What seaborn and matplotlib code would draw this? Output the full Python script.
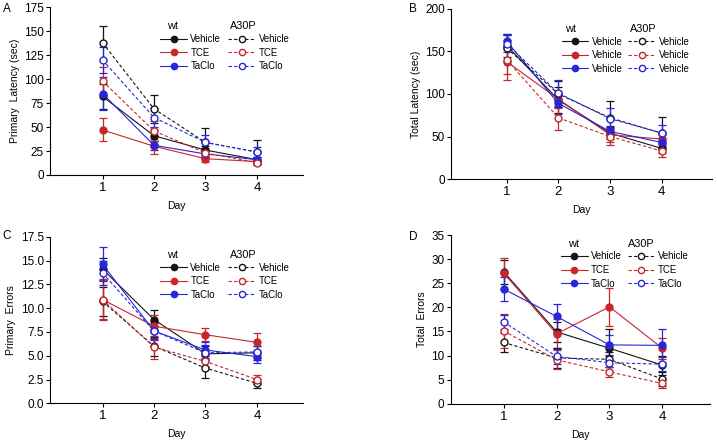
import matplotlib
matplotlib.use("Agg")
import matplotlib.pyplot as plt
from matplotlib.lines import Line2D
import seaborn as sns
import pandas as pd

sns.set_style("ticks")
plt.rcParams['font.family'] = ['Liberation Sans', 'DejaVu Sans']
for k in ["text.color", "axes.labelcolor", "xtick.color", "ytick.color", "axes.edgecolor"]:
    plt.rcParams[k] = "black"

days = [1, 2, 3, 4]
series = ["wt_Vehicle", "wt_TCE", "wt_TaClo", "A30P_Vehicle", "A30P_TCE", "A30P_TaClo"]

# Panel A: Primary latency (sec)
A_mean = {"wt_Vehicle": [82, 41, 26, 16], "wt_TCE": [47, 30, 17, 14], "wt_TaClo": [85, 31, 22, 16],
          "A30P_Vehicle": [138, 69, 34, 24], "A30P_TCE": [98, 46, 23, 13], "A30P_TaClo": [120, 60, 34, 24]}
A_sem = {"wt_Vehicle": [13, 6, 4, 3], "wt_TCE": [12, 8, 3, 2], "wt_TaClo": [17, 5, 4, 3],
         "A30P_Vehicle": [18, 15, 15, 13], "A30P_TCE": [15, 10, 5, 3], "A30P_TaClo": [14, 10, 8, 5]}

# Panel B: Total latency (sec)
B_mean = {"wt_Vehicle": [157, 93, 54, 36], "wt_TCE": [138, 94, 52, 47], "wt_TaClo": [162, 89, 56, 43],
          "A30P_Vehicle": [154, 100, 72, 54], "A30P_TCE": [140, 72, 50, 33], "A30P_TaClo": [159, 101, 71, 54]}
B_sem = {"wt_Vehicle": [14, 15, 7, 5], "wt_TCE": [15, 10, 8, 5], "wt_TaClo": [8, 12, 6, 5],
         "A30P_Vehicle": [15, 15, 20, 19], "A30P_TCE": [24, 14, 10, 7], "A30P_TaClo": [10, 16, 12, 10]}

# Panel C: Primary errors
C_mean = {"wt_Vehicle": [14.1, 8.8, 5.2, 5.3], "wt_TCE": [10.9, 8.1, 7.2, 6.4], "wt_TaClo": [14.6, 7.6, 5.6, 4.9],
          "A30P_Vehicle": [10.7, 6.0, 3.7, 2.1], "A30P_TCE": [10.9, 5.9, 4.4, 2.5], "A30P_TaClo": [13.7, 7.6, 5.3, 5.4]}
C_sem = {"wt_Vehicle": [1.2, 1.0, 0.8, 0.7], "wt_TCE": [2.2, 1.2, 0.7, 1.0], "wt_TaClo": [1.8, 1.0, 0.8, 0.7],
         "A30P_Vehicle": [1.5, 1.0, 1.0, 0.5], "A30P_TCE": [2.0, 1.2, 0.6, 0.5], "A30P_TaClo": [1.3, 0.8, 0.8, 0.6]}

# Panel D: Total errors
D_mean = {"wt_Vehicle": [27.4, 14.9, 11.5, 8.0], "wt_TCE": [27.1, 14.5, 20.1, 11.5], "wt_TaClo": [23.8, 18.1, 12.2, 12.1],
          "A30P_Vehicle": [12.7, 9.5, 9.2, 5.1], "A30P_TCE": [15.1, 9.1, 6.6, 4.2], "A30P_TaClo": [17.0, 9.8, 8.5, 8.2]}
D_sem = {"wt_Vehicle": [2.5, 2.0, 3.9, 2.0], "wt_TCE": [3.2, 3.0, 3.9, 2.2], "wt_TaClo": [2.4, 2.5, 2.0, 3.5],
         "A30P_Vehicle": [2.0, 2.0, 1.5, 1.5], "A30P_TCE": [3.5, 2.0, 1.0, 1.0], "A30P_TaClo": [1.5, 1.5, 1.5, 1.5]}

panel_letters = ["A", "B", "C", "D"]
ylabels = ["Primary  Latency (sec)", "Total Latency (sec)", "Primary  Errors", "Total  Errors"]
yticks_A = [0, 25, 50, 75, 100, 125, 150, 175]
yticks_B = [0, 50, 100, 150, 200]
yticks_C = [0.0, 2.5, 5.0, 7.5, 10.0, 12.5, 15.0, 17.5]
yticks_D = [0, 5, 10, 15, 20, 25, 30, 35]
legend_labels_A = ["Vehicle", "TCE", "TaClo"]
legend_labels_B = ["Vehicle", "Vehicle", "Vehicle"]
genotype_titles = ["wt", "A30P"]

colors = {"Vehicle": "#151515", "TCE": "#c9262a", "TaClo": "#2626dd"}

fig = plt.figure(figsize=(7.17, 4.42), dpi=100)
W, H = 717, 442

def px_axes(l, r, top, bottom):
    return fig.add_axes([l / W, 1 - bottom / H, (r - l) / W, (bottom - top) / H])

axA = px_axes(50, 303.3, 7.3, 175)
axB = px_axes(451, 711.7, 9, 179)
axC = px_axes(50, 303.3, 236.7, 403.3)
axD = px_axes(450.7, 710, 235, 403.7)

# legend layout: (handle-x wt, handle-x A30P, legend top, header-x wt, header-x A30P, header-y)
panels = [
    (axA, A_mean, A_sem, yticks_A, legend_labels_A, (-0.02, 4.9), (0.435, 0.704, 0.84, 0.462, 0.711, 0.89), "{:g}"),
    (axB, B_mean, B_sem, yticks_B, legend_labels_B, (-0.08, 4.97), (0.424, 0.68, 0.838, 0.437, 0.685, 0.882), "{:g}"),
    (axC, C_mean, C_sem, yticks_C, legend_labels_A, (-0.02, 4.9), (0.435, 0.704, 0.845, 0.462, 0.711, 0.89), "{:.1f}"),
    (axD, D_mean, D_sem, yticks_D, legend_labels_A, (0.0, 4.9), (0.425, 0.683, 0.903, 0.452, 0.684, 0.947), "{:g}"),
]

for i, (ax, means, sems, yt, leg_labels, xl, lp, fmt) in enumerate(panels):
    for key in series:
        geno, treat = key.split("_")
        c = colors[treat]
        is_mut = geno == "A30P"
        ax.errorbar(days, means[key], yerr=sems[key], fmt="none", ecolor=c,
                    elinewidth=0.9, capsize=3, capthick=0.9, zorder=2)
        df = pd.DataFrame({"Day": days, "val": means[key]})
        sns.lineplot(data=df, x="Day", y="val", ax=ax, color=c, marker="o",
                     markersize=5,
                     markerfacecolor="white" if is_mut else c,
                     markeredgecolor=c, markeredgewidth=1.0,
                     linewidth=0.8, linestyle=(0, (3, 2)) if is_mut else "-",
                     legend=False, errorbar=None, zorder=3)
    ax.set_xlim(*xl)
    ax.set_ylim(yt[0], yt[-1])
    ax.set_xticks(days)
    ax.set_yticks(yt)
    ax.set_yticklabels([fmt.format(v) for v in yt])
    ax.tick_params(axis="y", labelsize=8.5, length=3, width=0.8, pad=1.5)
    ax.tick_params(axis="x", labelsize=9.5, length=3, width=0.8, pad=2)
    ax.set_xlabel("Day", fontsize=7.5, labelpad=5)
    ax.set_ylabel(ylabels[i], fontsize=7.5, labelpad=3)
    sns.despine(ax=ax)
    for s in ["left", "bottom"]:
        ax.spines[s].set_linewidth(0.8)

    # legends: wt (filled) and A30P (open, dashed)
    for j, geno in enumerate(genotype_titles):
        handles = []
        for treat in ["Vehicle", "TCE", "TaClo"]:
            c = colors[treat]
            if geno == "wt":
                h = Line2D([], [], color=c, marker="o", markersize=4.5, markerfacecolor=c,
                           markeredgecolor=c, linewidth=0.8)
            else:
                h = Line2D([], [], color=c, marker="o", markersize=4.5, markerfacecolor="white",
                           markeredgecolor=c, linewidth=0.8, linestyle=(0, (3, 2)))
            handles.append(h)
        leg = ax.legend(handles, leg_labels, loc="upper left",
                        bbox_to_anchor=(lp[j], lp[2]), frameon=False,
                        fontsize=6.9, borderpad=0, borderaxespad=0,
                        handlelength=2.8, handletextpad=0.35, labelspacing=0.38,
                        numpoints=1)
        if j == 0:
            ax.add_artist(leg)
        ax.text(lp[3 + j], lp[5], geno, transform=ax.transAxes, fontsize=7.8,
                ha="left", va="center")

letter_pos = [(3, 15), (409, 15), (2, 242), (409, 243)]
for letter, (x, y) in zip(panel_letters, letter_pos):
    fig.text(x / W, 1 - y / H, letter, fontsize=8.5, va="bottom", ha="left")

fig.savefig("out.png", dpi=100)
